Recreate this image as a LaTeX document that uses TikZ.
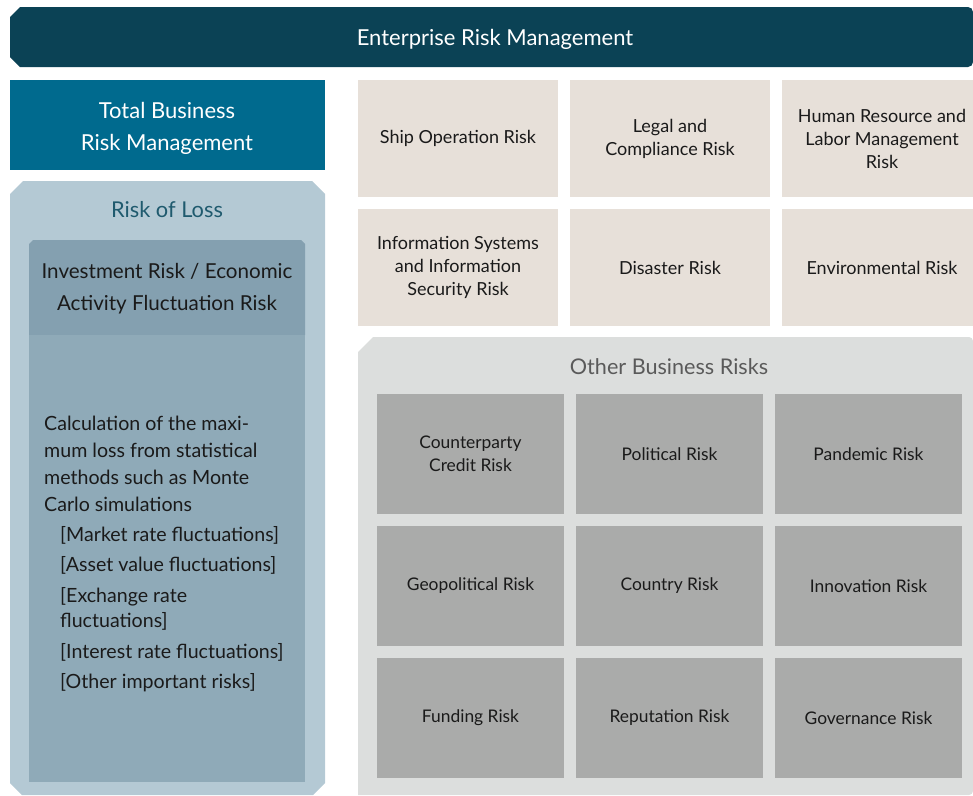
\documentclass[tikz,border=0pt]{standalone}
\usepackage{fontspec}
\setmainfont{Lato}
\usetikzlibrary{positioning}
\definecolor{ERMDark}{HTML}{0B4255}
\definecolor{ERMTotal}{HTML}{006A8E}
\definecolor{ERMLossPanel}{HTML}{B4C9D4}
\definecolor{ERMLossTitle}{HTML}{1F5A6E}
\definecolor{ERMInvHead}{HTML}{84A0B0}
\definecolor{ERMInvBody}{HTML}{8FAAB8}
\definecolor{ERMTan}{HTML}{E7E0D9}
\definecolor{ERMOtherPanel}{HTML}{DCDEDD}
\definecolor{ERMOtherTitle}{HTML}{5A5A5A}
\definecolor{ERMGrey}{HTML}{AAABAA}
\definecolor{ERMText}{HTML}{1A1A1A}

\begin{document}
\begin{tikzpicture}[x=1pt,y=1pt,node distance=12pt]
    \tikzset{riskcell/.style={inner sep=0pt,outer sep=0pt,align=center,text=ERMText,
      font=\fontsize{18}{23}\selectfont},
      tanbox/.style={riskcell,fill=ERMTan,minimum width=200pt,minimum height=117pt,yshift=0pt},
      greybox/.style={riskcell,fill=ERMGrey,minimum width=187pt,minimum height=120pt,
      font=\fontsize{17.4}{23}\selectfont}}
    \useasboundingbox (0,0) rectangle (973,-795);
    % top band
    \fill[ERMDark] (10,-17) -- (20,-7) [rounded corners=5pt] -- (973,-7) -- (973,-67)
      [sharp corners] -- (20,-67) -- (10,-57) -- cycle;
    \node[text=white,font=\fontsize{22}{26}\selectfont] (erm) at (495,-39) {Enterprise Risk Management};
    % left column
    \fill[ERMTotal] (10,-80) rectangle (325,-170);
    \node[text=white,align=center,font=\fontsize{22}{32}\selectfont] (total) at (167,-128) {Total Business\\Risk Management};
    \fill[ERMLossPanel] (10,-194) -- (23,-181) -- (312,-181) -- (325,-194) -- (325,-783)
      -- (313,-795) -- (22,-795) -- (10,-783) -- cycle;
    \node[text=ERMLossTitle,font=\fontsize{21.8}{26}\selectfont] (loss) at (167,-210) {Risk of Loss};
    \fill[ERMInvHead] (29,-244) -- (33,-240) -- (301,-240) -- (305,-244) -- (305,-335) -- (29,-335) -- cycle;
    \fill[ERMInvBody] (29,-335) rectangle (305,-782);
    \node[text=ERMText,align=center,font=\fontsize{20.6}{32}\selectfont] (invest) at (167,-289)
      {Investment Risk / Economic\\Activity Fluctuation Risk};
    \node[text=ERMText,align=left,anchor=north west,inner sep=0pt,font=\fontsize{19.6}{27}\selectfont] (calc) at (44,-416)
      {Calculation of the maxi-\\mum loss from statistical\\methods such as Monte\\Carlo simulations\\[3pt]
       \hspace{16pt}[Market rate fluctuations]\\[3pt]
       \hspace{16pt}[Asset value fluctuations]\\[4pt]
       \hspace{16pt}[Exchange rate\\[-2pt]
       \hspace{16pt}fluctuations]\\[4pt]
       \hspace{16pt}[Interest rate fluctuations]\\[3pt]
       \hspace{16pt}[Other important risks]};
    % specific risks
    \node[tanbox,anchor=north west] (ship) at (358,-80) {Ship Operation Risk};
    \node[tanbox,right=of ship] (legal) {Legal and\\Compliance Risk};
    \node[tanbox,right=of legal] (human) {Human Resource and\\Labor Management\\Risk};
    \node[tanbox,below=of ship] (infosys) {Information Systems\\and Information\\Security Risk};
    \node[tanbox,below=of legal] (disaster) {Disaster Risk};
    \node[tanbox,below=of human] (environ) {Environmental Risk};
    % other business risks
    \fill[ERMOtherPanel] (358,-352) -- (373,-337) [rounded corners=4pt] -- (973,-337) -- (973,-795)
      [sharp corners] -- (358,-795) -- cycle;
    \node[text=ERMOtherTitle,font=\fontsize{21.6}{26}\selectfont] (other) at (669,-367) {Other Business Risks};
    \node[greybox,anchor=north west] (counter) at (377,-394) {Counterparty\\Credit Risk};
    \node[greybox,right=of counter] (political) {Political Risk};
    \node[greybox,right=of political] (pandemic) {Pandemic Risk};
    \node[greybox,below=of counter] (geopol) {Geopolitical Risk};
    \node[greybox,below=of political] (country) {Country Risk};
    \node[greybox,below=of pandemic] (innov) {Innovation Risk};
    \node[greybox,below=of geopol] (funding) {Funding Risk};
    \node[greybox,below=of country] (reput) {Reputation Risk};
    \node[greybox,below=of innov] (govern) {Governance Risk};
  \end{tikzpicture}
\end{document}
